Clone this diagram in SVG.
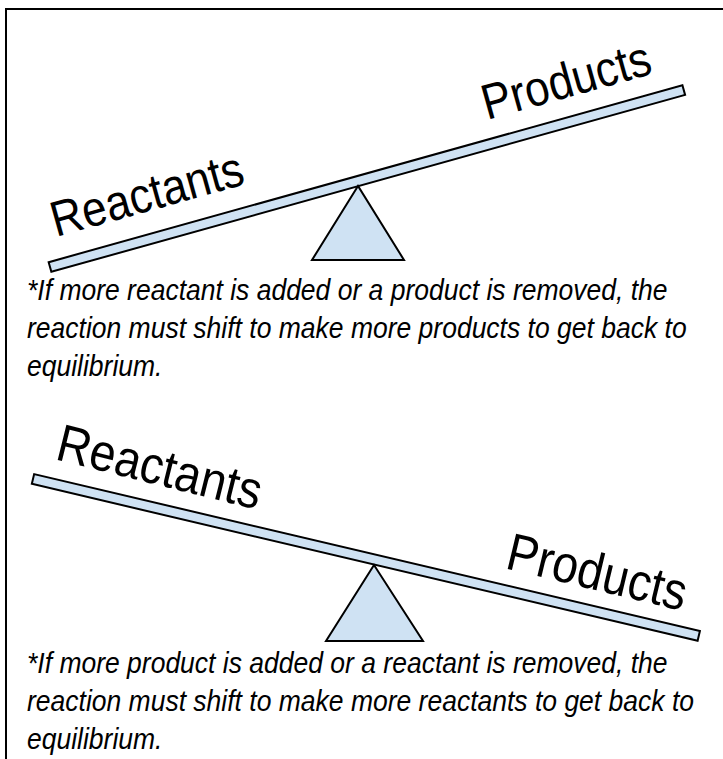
<svg xmlns="http://www.w3.org/2000/svg" width="723" height="759" viewBox="0 0 723 759">
<style>
.beam{fill:#cfe2f3;stroke:#000;stroke-width:2}
.fulcrum{fill:#cfe2f3;stroke:#000;stroke-width:2;stroke-linejoin:miter}
.lbl{font-family:"Liberation Sans",Arial,sans-serif;font-size:44px;fill:#000}
.lbl2{font-family:"Liberation Sans",Arial,sans-serif;font-size:46.5px;fill:#000}
.note{font-family:"Liberation Sans",Arial,sans-serif;font-size:26.5px;font-style:italic;fill:#000}
.frame{stroke:#000;stroke-width:2;fill:none}
</style>
<rect width="723" height="759" fill="#fff"/>
<path class="frame" d="M6,759 V9 H723"/>
<g id="seesaw1">
  <rect class="beam" x="0" y="-5" width="658" height="10" transform="translate(50,267) rotate(-15.6)"/>
  <polygon class="fulcrum" points="358,186 312,260 404,260"/>
  <text class="lbl" transform="translate(56,237) rotate(-15.6) scale(1,1.13)">Reactants</text>
  <text class="lbl" transform="translate(487,120) rotate(-15.6) scale(1,1.13)">Products</text>
</g>
<g id="note1">
  <text class="note" transform="translate(27,300) scale(1,1.12)">*If more reactant is added or a product is removed, the</text>
  <text class="note" transform="translate(27,338) scale(1,1.12)">reaction must shift to make more products to get back to</text>
  <text class="note" transform="translate(27,376) scale(1,1.12)">equilibrium.</text>
</g>
<g id="seesaw2">
  <rect class="beam" x="0" y="-5" width="684" height="10" transform="translate(33,479) rotate(13.26)"/>
  <polygon class="fulcrum" points="374,565 326,641 423,641"/>
  <text class="lbl2" transform="translate(54,459) rotate(14) scale(1,1.13)">Reactants</text>
  <text class="lbl2" transform="translate(504,568) rotate(13.5) scale(1,1.13)">Products</text>
</g>
<g id="note2">
  <text class="note" transform="translate(27,673) scale(1,1.12)">*If more product is added or a reactant is removed, the</text>
  <text class="note" transform="translate(27,711) scale(1,1.12)">reaction must shift to make more reactants to get back to</text>
  <text class="note" transform="translate(27,749) scale(1,1.12)">equilibrium.</text>
</g>
<g id="connectors"/>
</svg>
